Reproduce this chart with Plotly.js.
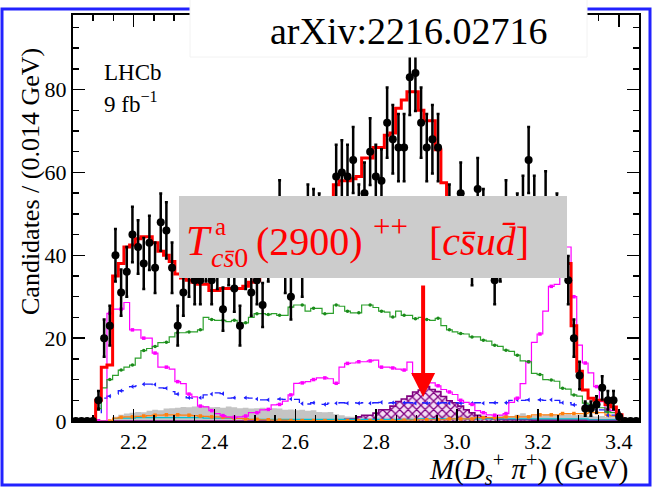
<!DOCTYPE html>
<html>
<head>
<meta charset="utf-8">
<script src="https://cdn.plot.ly/plotly-3.0.1.min.js"></script>
<style>html,body{margin:0;padding:0;background:#fff;}#chart{width:654px;height:490px;}</style>
</head>
<body>
<div id="chart"></div>
<script>
// Binning: 100 bins of 0.014 GeV from 2.05 to 3.45 GeV
const binLow = 2.05;
const binWidth = 0.014;

const dataCounts = [0,0,0,0,5,20,23,40,31,36,
  45,42,38,43,37,48,46,37,23,31,
  36,34,34,40,34,38,27,39,32,23,
  38,31,34,28,40,43,51,37,30,44,
  36,50,49,48,45,46,59,60,59,63,
  50,55,65,59,58,72,68,66,66,83,
  84,72,66,68,66,45,50,44,55,44,
  39,56,49,42,34,40,51,43,48,52,
  63,52,44,53,45,48,44,34,20,11,
  3,3,4,8,5,5,1,0,0,0];

const fitTotal = [0,0,0,0,5,13,13.5,35,38,42,
  42.5,44,44.5,44.5,43,41,40,38.5,35.5,34.5,
  34,33.5,33,33,31.5,31.5,32,32,32,32,
  32.5,33.5,34,36,37,38,39,40,41,42,
  43.5,45,46.5,48,50,52,57,58,58,58.5,
  59,63.5,63.5,66,66,69,69.5,75.5,77.5,79.5,
  79.5,75,72.5,72.5,65.5,57.5,52,50,48,46,
  45,44,43,42,41.5,41,41,41.5,42,43,
  44,45,46,47,47,47,46,38,23,12,
  7.5,5.5,5,5,4,3.4,1.5,0.3,0,0];

const compMagenta = [0,0,0,0,0,0,26,27,27,28.6,
  22,22,20,20,16.4,13,13,12.5,9.5,9,
  6.5,5.8,3.6,3.4,2.5,1.8,1.3,1.0,0.9,1.0,
  1.2,2,2,2.7,2.8,3.9,4,4.8,6.3,9.1,
  9.2,9.5,10,10.4,10.4,10.2,9.1,13,13.9,14,
  14.3,14.3,14.5,14.7,13,13,12.8,12.5,12.3,14.2,
  11,10.5,10,9.2,8.5,7.6,7,6.4,5,4.5,
  4,2.5,2,1.5,1.4,1.4,1.8,4.5,5.5,9,
  14.3,19,21,26.5,32.5,33,41.5,42,30,18.3,
  14,11.6,8.3,4.7,2.7,2.5,1,0.5,0,0];

const compGreen = [0,0,0,0,3,8,10,11,12.3,13,
  13.5,15.2,17,17.5,18,18.9,19,20.3,21.3,21.3,
  21.5,21.5,22,25,24.5,24.3,24.3,24,24.3,23.7,
  23.7,25,25.9,25.9,25.7,25.9,25.5,25.5,27.5,28,
  28,26.5,27.2,27.2,25.9,26,28,27.7,26.5,26.1,
  26.1,28,28,27.4,26.5,26.3,25.1,26.5,25.5,25.5,
  24.7,25,24.5,24.3,24.8,23,22,21.5,21.1,21,
  20.3,20.3,19.5,19.3,18.3,18,17.1,16.8,15.9,14.5,
  14.3,11.5,11.2,10,9.9,9.6,7.9,7.7,6.3,6,
  4.3,4,3.4,3.2,2.2,2,1,0.3,0,0];

const compBlue = [0,0,0,0,0,5.5,6,6.5,7.3,7.5,
  8.3,8.5,8.9,8.9,8.8,8,7.9,7.1,6.5,5.9,
  5.6,5.5,5.6,6.3,6.5,6.8,6.6,5.5,5.6,5.5,
  5.6,5.5,5.3,5.1,5.1,5.3,5.3,5.2,5.3,5.2,
  4.2,4.1,4.4,3.9,4.0,4.3,4.3,4.4,4.3,4.4,
  4.3,4.4,4.3,4.4,4.5,4.3,4.4,4.3,4.4,4.4,
  4.3,4.4,4.3,4.4,4.3,4.4,4.3,4.4,4.3,4.4,
  4.3,4.4,4.3,4.4,4.4,4.3,4.4,5.0,5.1,5.0,
  5.1,5.0,5.1,5.0,5.1,5.0,4.4,4.4,3.9,3.9,
  3.9,3.8,2.7,2.7,1.4,1.4,0.5,0,0,0];

const compGray = [0,0,0,0,0,0,0,1,1.5,1.8,
  2,2.2,2.1,2.5,2.7,2.6,3.0,3.1,3.2,3.4,
  3.3,3.5,3.4,3.6,3.3,3.4,3.2,3.5,3.3,3.1,
  3.2,3.0,3.1,3.2,2.9,3.1,3.0,2.7,2.8,2.6,
  2.7,2.5,2.6,2.2,2.1,2.2,1.6,1.4,1.1,1.0,
  0.9,1.0,0.8,0.9,1.0,0.9,1.0,0.8,0.9,1.0,
  1.1,0.9,1.0,1.2,1.1,1.3,1.2,1.1,1.3,1.2,
  1.4,1.2,1.3,1.1,1.2,1.4,1.3,1.2,1.5,1.9,
  1.4,1.3,1.2,1.5,1.6,1.4,1.5,1.6,1.4,1.5,
  1.3,1.2,1.1,1.2,1.0,0.9,0.5,0.2,0,0];

const compOrange = [0,0,0,0,0,0,0,0.7,0.9,1.0,
  1.0,1.1,1.2,1.3,1.4,1.4,1.5,1.5,1.5,1.4,
  1.4,1.3,1.2,1.1,1.0,1.0,0.9,0.8,0.7,0.6,
  0.5,0.4,0.4,0.3,0.3,0.2,0.2,0.2,0.1,0.1,
  0.1,0.1,0.1,0.1,0.1,0.1,0.1,0.1,0.1,0.1,
  0.1,0.1,0.1,0.1,0.1,0.1,0.1,0.1,0.2,0.2,
  0.2,0.3,0.3,0.3,0.3,0.3,0.5,0.5,0.5,0.5,
  0.5,0.8,0.8,0.8,0.8,0.8,1.0,1.0,1.0,1.0,
  1.0,1.5,1.5,1.5,1.5,1.5,1.8,1.8,1.8,1.8,
  1.8,2.0,2.0,2.0,1.4,1.2,0.5,0,0,0];

const compCyan = [0,0,0,0,0,0,0,0.6,0.7,0.7,
  0.7,0.8,0.8,0.8,0.8,0.8,0.8,0.8,0.8,0.8,
  0.8,0.8,0.8,0.7,0.7,0.7,0.7,0.7,0.6,0.6,
  0.6,0.4,0.4,0.4,0.4,0.4,0.4,0.4,0.4,0.4,
  0.4,0.4,0.4,0.4,0.4,0.4,0.4,0.4,0.4,0.4,
  0.4,0.4,0.4,0.4,0.4,0.4,0.4,0.4,0.4,0.4,
  0.4,0.5,0.5,0.5,0.5,0.5,0.5,0.5,0.5,0.5,
  0.5,0.5,0.5,0.5,0.5,0.5,0.5,0.5,0.5,0.5,
  0.5,0.5,0.5,0.5,0.5,0.5,0.5,0.5,0.5,0.5,
  0.5,0.3,0.3,0.3,0.3,0.3,0.3,0,0,0];

const compSignal = [0,0,0,0,0,0,0,0,0,0,
  0,0,0,0,0,0,0,0,0,0,
  0,0,0,0,0,0,0,0,0,0,
  0,0,0,0,0,0,0,0,0,0,
  0,0,0,0,0,0.1,0.2,0.3,0.4,0.5,
  1.0,1.4,1.4,1.9,2.7,2.7,3.6,4.7,5.3,6.0,
  7.0,7.5,8.3,7.6,7.1,5.9,4.9,4.4,3.6,2.7,
  2.0,1.4,1.0,0.7,0.6,0.4,0.3,0.3,0.3,0.3,
  0.3,0.2,0.2,0.2,0.2,0.2,0.2,0.2,0.2,0.2,
  0.2,0.2,0.2,0.2,0.2,0.2,0,0,0,0];

const xTickVals = [2.2, 2.4, 2.6, 2.8, 3.0, 3.2, 3.4];
const xTickText = ['2.2', '2.4', '2.6', '2.8', '3.0', '3.2', '3.4'];
const yTickVals = [0, 20, 40, 60, 80];
const yTickText = ['0', '20', '40', '60', '80'];

const signalMass = 2.916; // arrow position (GeV)

// ---- derived geometry ----
const nBins = dataCounts.length;
const centers = dataCounts.map((_, i) => +(binLow + binWidth * (i + 0.5)).toFixed(4));
const edges = Array.from({length: nBins + 1}, (_, i) => +(binLow + binWidth * i).toFixed(4));
function stepY(vals) { return vals.concat([vals[vals.length - 1]]); }
function every2(arr) { return arr.filter((_, i) => i % 2 === 0); }

const SERIF = 'Liberation Serif';

function stepTrace(vals, color, width, dash, fill) {
  const t = {
    type: 'scatter', mode: 'lines', x: edges, y: stepY(vals),
    line: {shape: 'hv', color: color, width: width, dash: dash || 'solid'},
    hoverinfo: 'skip', showlegend: false
  };
  if (fill) Object.assign(t, fill);
  return t;
}
function markTrace(vals, color, symbol, size) {
  return {type: 'scatter', mode: 'markers', x: every2(centers), y: every2(vals),
    marker: {color: color, symbol: symbol, size: size}, hoverinfo: 'skip', showlegend: false};
}

const traces = [
  stepTrace(compGray, 'rgba(0,0,0,0)', 0, null, {fill: 'tozeroy', fillcolor: '#c4c4c4'}),
  stepTrace(compSignal, '#800080', 1.6, null, {fill: 'tozeroy', fillcolor: 'rgba(255,255,255,0)',
    fillpattern: {shape: 'x', fgcolor: '#800080', bgcolor: 'rgba(235,190,235,0.5)', size: 6, solidity: 0.38}}),
  stepTrace(compCyan, '#00c0d0', 1.2),
  stepTrace(compOrange, '#ff7f0e', 1.2),
  markTrace(compOrange, '#ff7f0e', 'square', 3.5),
  stepTrace(compBlue, '#1f1fff', 1.3, 'dash'),
  markTrace(compBlue, '#1f1fff', 'triangle-left', 4),
  stepTrace(compMagenta, '#ff00ff', 1.2),
  markTrace(compMagenta, '#ff00ff', 'square', 3.5),
  stepTrace(compGreen, '#2ca02c', 1.2),
  markTrace(compGreen, '#1a8a1a', 'circle', 3.5),
  stepTrace(fitTotal, '#ff0000', 3),
  {type: 'scatter', mode: 'markers', x: centers, y: dataCounts,
    marker: {color: '#000', size: 8},
    error_y: {type: 'data', array: dataCounts.map(v => Math.sqrt(v)), visible: true,
      color: '#000', thickness: 2.5, width: 1.5},
    hoverinfo: 'skip', showlegend: false}
];

// pixel helpers for layout (plot area: left 73, top 15, width 566, height 406)
const PL = 73, PT = 15, PW = 566, PH = 406;
const px = x => (x - PL) / PW;
const py = y => (PT + PH - y) / PH;

const red = '#ff0000';
function txt(x, y, text, size, color, xanchor, extra) {
  return Object.assign({xref: 'paper', yref: 'paper', x: px(x), y: py(y), text: text, showarrow: false,
    font: {family: SERIF, size: size, color: color}, xanchor: xanchor, yanchor: 'middle'}, extra || {});
}
const annotations = [
  txt(409, 31, 'arXiv:2216.02716', 38, '#000', 'center'),
  txt(102, 72, 'LHCb', 23, '#000', 'left'),
  txt(102, 103, '9 fb<sup>\u22121</sup>', 23, '#000', 'left'),
  txt(30, 182, 'Candidates / (0.014 GeV)', 26, '#000', 'center', {textangle: -90}),
  txt(630, 469, '<i>M</i>(<i>D</i><sub><i>s</i></sub><sup>+</sup> <i>\u03c0</i><sup>+</sup>) (GeV)', 29, '#000', 'right'),
  // label pieces
  txt(184, 241, '<i>T</i>', 42, red, 'left'),
  txt(213, 226, 'a', 25, red, 'left'),
  txt(209, 257, '<i>cs\u0304</i>0', 28, red, 'left'),
  txt(254, 241, '(2900)', 40, red, 'left'),
  txt(371, 226, '++', 31, red, 'left'),
  txt(427, 241, '[<i>cs\u0304ud\u0304</i>]', 40, red, 'left'),
  {xref: 'x', yref: 'y', x: signalMass, y: 5.8, text: '', showarrow: true, ax: 0, ay: -113,
    arrowcolor: red, arrowwidth: 4, arrowhead: 2, arrowsize: 1.2, standoff: 0}
];

const shapes = [
  {type: 'rect', xref: 'paper', yref: 'paper', x0: px(2), x1: px(650), y0: py(485), y1: py(9),
    line: {color: '#2222ff', width: 3}, fillcolor: 'rgba(0,0,0,0)', layer: 'above'},
  {type: 'rect', xref: 'paper', yref: 'paper', x0: px(190), x1: px(587), y0: py(57), y1: py(-2),
    line: {color: '#f2f2f2', width: 1}, fillcolor: '#ffffff', layer: 'above'},
  {type: 'rect', xref: 'paper', yref: 'paper', x0: px(179), x1: px(567), y0: py(278), y1: py(196),
    line: {width: 0}, fillcolor: '#cccccc', layer: 'above'}
];

const axisCommon = {
  showline: true, linecolor: '#000', linewidth: 2, mirror: 'allticks',
  ticks: 'inside', ticklen: 12, tickwidth: 1.5, tickcolor: '#000',
  showgrid: false, zeroline: false,
  tickfont: {family: SERIF, size: 22, color: '#000'}
};

const layout = {
  width: 654, height: 490,
  font: {family: SERIF, color: '#000'},
  margin: {l: PL, r: 654 - PL - PW, t: PT, b: 490 - PT - PH, pad: 0},
  paper_bgcolor: '#ffffff', plot_bgcolor: '#ffffff',
  showlegend: false,
  xaxis: Object.assign({}, axisCommon, {
    range: [binLow, binLow + binWidth * nBins], tickvals: xTickVals, ticktext: xTickText,
    minor: {dtick: 0.05, tick0: 0, ticks: 'inside', ticklen: 6, tickwidth: 1.5, tickcolor: '#000', showgrid: false}
  }),
  yaxis: Object.assign({}, axisCommon, {
    range: [0, 98], tickvals: yTickVals, ticktext: yTickText,
    minor: {dtick: 5, tick0: 0, ticks: 'inside', ticklen: 6, tickwidth: 1.5, tickcolor: '#000', showgrid: false}
  }),
  shapes: shapes,
  annotations: annotations
};

Plotly.newPlot('chart', traces, layout, {displayModeBar: false, staticPlot: true});
</script>
</body>
</html>
